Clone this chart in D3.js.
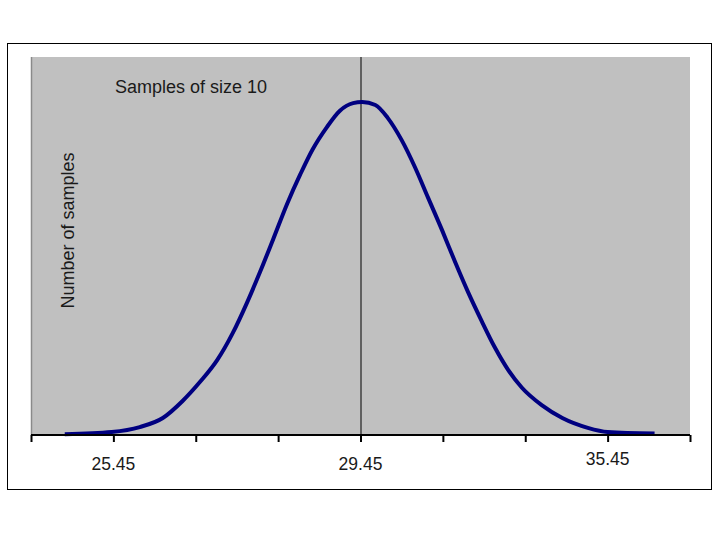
<!DOCTYPE html>
<html>
<head>
<meta charset="utf-8">
<script src="https://cdn.jsdelivr.net/npm/d3@7"></script>
<style>
  body { margin: 0; background: #fff; }
  text { font-family: Arial, "Liberation Sans", sans-serif; fill: #1a1a1a; }
</style>
</head>
<body>
<svg id="chart" width="720" height="540"></svg>
<script>
// x is measured in tick steps (0..8), y in % of the plot height
var curveX = [0.41, 0.98, 1.32, 1.60, 1.84, 2.05, 2.26, 2.45, 2.62, 2.78, 2.94, 3.11, 3.27, 3.42, 3.59, 3.75, 3.91, 4.02,
              4.18, 4.33, 4.50, 4.66, 4.82, 4.99, 5.15, 5.31, 5.47, 5.63, 5.79, 5.96, 6.20, 6.45, 6.76, 7.00, 7.57];
var curveY = [0.2, 0.8, 2.1, 4.5, 9.0, 14.0, 19.8, 27.0, 34.9, 43.1, 51.8, 61.2, 69.0, 75.6, 81.4, 85.8, 87.8, 88.1,
              87.3, 83.9, 78.0, 70.9, 62.8, 54.2, 45.7, 37.6, 30.2, 23.2, 17.3, 12.5, 7.9, 4.5, 1.9, 0.8, 0.4];
var tickIndex = [0, 1, 2, 3, 4, 5, 6, 7, 8];
var tickLabels = [
    { i: 1, label: "25.45", raise: 0 },
    { i: 4, label: "29.45", raise: 0 },
    { i: 7, label: "35.45", raise: 5 }
];
var meanIndex = 4;
var title = "Samples of size 10";
var yTitle = "Number of samples";

var svg = d3.select("#chart");

var x = d3.scaleLinear().domain([0, 8]).range([31, 690]);
var y = d3.scaleLinear().domain([0, 100]).range([435, 57]);

// outer frame
svg.append("rect")
    .attr("x", 7.5).attr("y", 43.5)
    .attr("width", 704).attr("height", 446)
    .attr("fill", "#fff")
    .attr("stroke", "#000");

// plot area
svg.append("rect")
    .attr("x", x(0)).attr("y", y(100))
    .attr("width", x(8) - x(0)).attr("height", y(0) - y(100))
    .attr("fill", "#c0c0c0");
svg.append("line")
    .attr("x1", x(0) + 0.5).attr("x2", x(0) + 0.5)
    .attr("y1", y(100)).attr("y2", y(0))
    .attr("stroke", "#8a8a8a")
    .attr("stroke-width", 1.5);

// mean line
svg.append("line")
    .attr("x1", x(meanIndex) + 0.5).attr("x2", x(meanIndex) + 0.5)
    .attr("y1", y(100)).attr("y2", y(0))
    .attr("stroke", "#000")
    .attr("stroke-width", 1);

// curve
var pts = curveX.map(function(d, i) { return [d, curveY[i]]; });
var line = d3.line()
    .x(function(d) { return x(d[0]); })
    .y(function(d) { return y(d[1]); })
    .curve(d3.curveMonotoneX);
svg.append("path")
    .datum(pts)
    .attr("d", line)
    .attr("fill", "none")
    .attr("stroke", "#000080")
    .attr("stroke-width", 4)
    .attr("stroke-linejoin", "round");

// x axis
var axis = svg.append("g")
    .attr("transform", "translate(0," + y(0) + ")")
    .call(d3.axisBottom(x).tickValues(tickIndex).tickSize(7).tickFormat(""));
axis.select(".domain").attr("stroke", "#000").attr("stroke-width", 2).attr("d", "M" + x(0) + ",0H" + x(8));
axis.selectAll(".tick line").attr("stroke", "#000").attr("stroke-width", 2);

svg.selectAll(".xlab")
    .data(tickLabels)
    .enter()
    .append("text")
    .attr("class", "xlab")
    .attr("x", function(d) { return x(d.i); })
    .attr("y", function(d) { return 470 - d.raise; })
    .attr("text-anchor", "middle")
    .style("font-size", "17.5px")
    .text(function(d) { return d.label; });

// titles
svg.append("text")
    .attr("x", 115)
    .attr("y", 93)
    .style("font-size", "18px")
    .text(title);

svg.append("text")
    .attr("transform", "translate(74,230.5) rotate(-90)")
    .attr("text-anchor", "middle")
    .style("font-size", "18px")
    .text(yTitle);
</script>
</body>
</html>
